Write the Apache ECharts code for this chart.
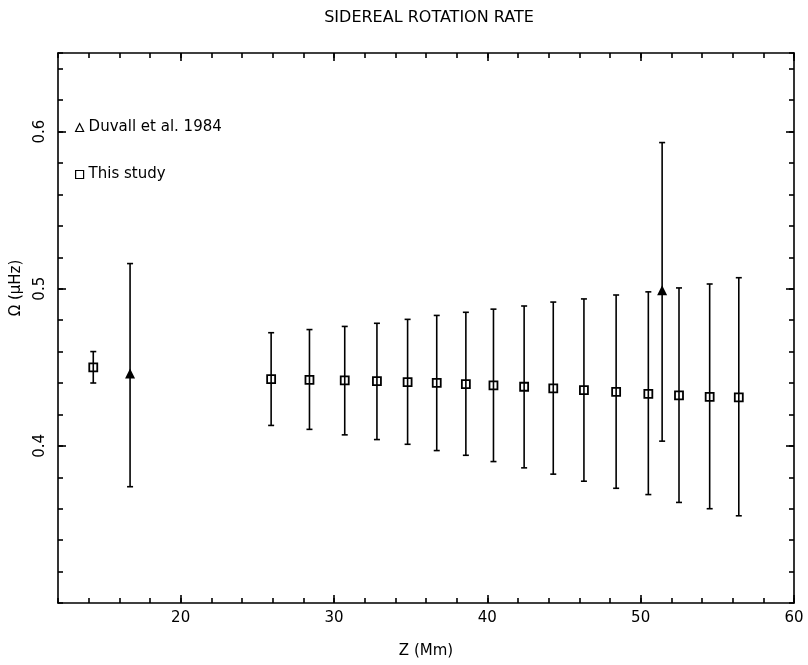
<!DOCTYPE html>
<html>
<head>
<meta charset="utf-8">
<script src="https://cdn.jsdelivr.net/npm/echarts@6/dist/echarts.min.js"></script>
<style>
  html, body { margin: 0; padding: 0; background: #fff; }
  #chart { width: 808px; height: 665px; }
</style>
</head>
<body>
<div id="chart"></div>
<script>
// this study: depth Z (Mm), rotation rate and error-bar ends
const studyZ = [14.3, 25.9, 28.4, 30.7, 32.8, 34.8, 36.7, 38.6, 40.4, 42.4, 44.3, 46.3, 48.4, 50.5, 52.5, 54.5, 56.4];
const studyOmega = [0.450, 0.4425, 0.442, 0.4417, 0.4412, 0.4406, 0.4401, 0.4393, 0.4385, 0.4376, 0.4366, 0.4355, 0.4344, 0.4331, 0.4321, 0.4312, 0.4308];
const studyHi = [0.460, 0.472, 0.474, 0.476, 0.478, 0.4805, 0.483, 0.485, 0.487, 0.489, 0.4915, 0.4935, 0.496, 0.498, 0.5005, 0.503, 0.507];
const studyLo = [0.440, 0.413, 0.4105, 0.407, 0.404, 0.401, 0.397, 0.394, 0.390, 0.386, 0.382, 0.3775, 0.373, 0.369, 0.364, 0.360, 0.3555];

// Duvall et al. 1984
const duvallZ = [16.7, 51.4];
const duvallOmega = [0.446, 0.499];
const duvallHi = [0.516, 0.593];
const duvallLo = [0.374, 0.403];

// tick labels
const xMajor = [20, 30, 40, 50, 60];
const yMajor = [0.4, 0.5, 0.6];

const FONT = 'DejaVu Sans';

function pts(xs, ys) { return xs.map((x, i) => [x, ys[i]]); }
function bars(xs, lo, hi) { return xs.map((x, i) => [x, lo[i], hi[i]]); }

// vertical error bar with caps
function errorBar(params, api) {
  const x = api.value(0);
  const lo = api.coord([x, api.value(1)]);
  const hi = api.coord([x, api.value(2)]);
  const w = 3;
  const style = { stroke: '#000', lineWidth: 1.6 };
  return {
    type: 'group',
    children: [
      { type: 'line', shape: { x1: hi[0], y1: hi[1], x2: lo[0], y2: lo[1] }, style },
      { type: 'line', shape: { x1: hi[0] - w, y1: hi[1], x2: hi[0] + w, y2: hi[1] }, style },
      { type: 'line', shape: { x1: lo[0] - w, y1: lo[1], x2: lo[0] + w, y2: lo[1] }, style }
    ]
  };
}

const chart = echarts.init(document.getElementById('chart'));

const lineStyle = { color: '#000', width: 1.6 };

chart.setOption({
  backgroundColor: '#fff',
  animation: false,
  title: {
    text: 'SIDEREAL ROTATION RATE',
    left: 424, textAlign: 'center', top: 5,
    textStyle: { fontFamily: FONT, fontSize: 16, fontWeight: 'normal', color: '#000' }
  },
  grid: { left: 58, right: 14, top: 53, bottom: 62 },
  graphic: [
    {
      type: 'text', x: 16, y: 288, rotation: Math.PI / 2,
      style: { text: 'Ω (μHz)', fontFamily: FONT, fontSize: 15, fill: '#000', align: 'center', verticalAlign: 'middle' }
    }
  ],
  legend: {
    orient: 'vertical',
    left: 70, top: 115,
    itemGap: 32,
    itemWidth: 8, itemHeight: 8,
    textStyle: { fontFamily: FONT, fontSize: 15, color: '#000' },
    data: [
      { name: 'Duvall et al. 1984', icon: 'triangle', itemStyle: { color: '#fff', borderColor: '#000', borderWidth: 1.2 } },
      { name: 'This study', icon: 'rect', itemStyle: { color: '#fff', borderColor: '#000', borderWidth: 1.2 } }
    ]
  },
  xAxis: [
    {
      type: 'value', position: 'bottom', min: 12, max: 60,
      name: 'Z (Mm)', nameLocation: 'middle', nameGap: 41,
      nameTextStyle: { fontFamily: FONT, fontSize: 15, color: '#000' },
      axisLine: { show: true, lineStyle },
      axisTick: { show: true, inside: true, length: 8, customValues: xMajor, lineStyle },
      axisLabel: { customValues: xMajor, margin: 8, fontFamily: FONT, fontSize: 15, color: '#000' },
      splitLine: { show: false }
    },
    {
      type: 'value', position: 'bottom', min: 12, max: 60, interval: 2,
      axisLine: { show: false },
      axisTick: { show: true, inside: true, length: 5, lineStyle },
      axisLabel: { show: false },
      splitLine: { show: false }
    },
    {
      type: 'value', position: 'top', min: 12, max: 60,
      axisLine: { show: true, lineStyle },
      axisTick: { show: true, inside: true, length: 8, customValues: xMajor, lineStyle },
      axisLabel: { show: false },
      splitLine: { show: false }
    },
    {
      type: 'value', position: 'top', min: 12, max: 60, interval: 2,
      axisLine: { show: false },
      axisTick: { show: true, inside: true, length: 5, lineStyle },
      axisLabel: { show: false },
      splitLine: { show: false }
    }
  ],
  yAxis: [
    {
      type: 'value', position: 'left', min: 0.3, max: 0.65,
      axisLine: { show: true, lineStyle },
      axisTick: { show: true, inside: true, length: 8, customValues: yMajor, lineStyle },
      axisLabel: { customValues: yMajor, rotate: 90, margin: 10, fontFamily: FONT, fontSize: 15, color: '#000' },
      splitLine: { show: false }
    },
    {
      type: 'value', position: 'left', min: 0.3, max: 0.65, interval: 0.02,
      axisLine: { show: false },
      axisTick: { show: true, inside: true, length: 5, lineStyle },
      axisLabel: { show: false },
      splitLine: { show: false }
    },
    {
      type: 'value', position: 'right', min: 0.3, max: 0.65,
      axisLine: { show: true, lineStyle },
      axisTick: { show: true, inside: true, length: 8, customValues: yMajor, lineStyle },
      axisLabel: { show: false },
      splitLine: { show: false }
    },
    {
      type: 'value', position: 'right', min: 0.3, max: 0.65, interval: 0.02,
      axisLine: { show: false },
      axisTick: { show: true, inside: true, length: 5, lineStyle },
      axisLabel: { show: false },
      splitLine: { show: false }
    }
  ],
  series: [
    {
      name: 'This study', type: 'scatter', symbol: 'rect', symbolSize: 8,
      itemStyle: { color: 'rgba(255,255,255,0)', borderColor: '#000', borderWidth: 1.8, opacity: 1 },
      data: pts(studyZ, studyOmega), z: 2
    },
    {
      name: 'Duvall et al. 1984', type: 'scatter', symbol: 'triangle', symbolSize: [10, 10],
      itemStyle: { color: '#000', opacity: 1 },
      data: pts(duvallZ, duvallOmega), z: 2
    },
    {
      name: 'This study err', type: 'custom', renderItem: errorBar,
      encode: { x: 0, y: [1, 2] },
      data: bars(studyZ, studyLo, studyHi), z: 3, silent: true
    },
    {
      name: 'Duvall err', type: 'custom', renderItem: errorBar,
      encode: { x: 0, y: [1, 2] },
      data: bars(duvallZ, duvallLo, duvallHi), z: 3, silent: true
    }
  ]
});
</script>
</body>
</html>
